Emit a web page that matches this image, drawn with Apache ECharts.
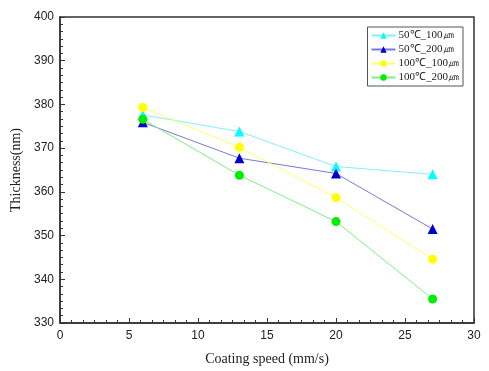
<!DOCTYPE html>
<html><head><meta charset="utf-8">
<script src="https://cdn.jsdelivr.net/npm/echarts@6/dist/echarts.min.js"></script>
<style>html,body{margin:0;padding:0;background:#fff}#c{width:489px;height:371px}</style>
</head><body><div id="c"></div>
<script>
const speeds = [6, 13, 20, 27];
const seriesNames = ['50℃_100㎛', '50℃_200㎛', '100℃_100㎛', '100℃_200㎛'];
const t50_100 = [377.6, 373.8, 365.8, 364.0];
const t50_200 = [375.9, 367.7, 364.2, 351.5];
const t100_100 = [379.3, 370.2, 358.7, 344.6];
const t100_200 = [376.6, 363.8, 353.2, 335.5];
const colors = ['#00ffff', '#0000cc', '#ffff00', '#00ee00'];
const lineColors = ['#80f0ff', '#7777dd', '#ffff70', '#80ee80'];
const symbols = ['triangle', 'triangle', 'circle', 'circle'];
const allValues = [t50_100, t50_200, t100_100, t100_200];

const chart = echarts.init(document.getElementById('c'), null, {renderer: 'canvas'});
const axisCommon = {
  axisLine: {show: true, lineStyle: {color: '#333', width: 1.5}},
  axisTick: {show: true, inside: true, length: 5, lineStyle: {color: '#333', width: 1}},
  minorTick: {show: true, splitNumber: 6, length: 3, lineStyle: {color: '#333', width: 1}},
  splitLine: {show: false},
  axisLabel: {color: '#222', fontFamily: 'Liberation Sans', fontSize: 12},
  nameTextStyle: {color: '#222', fontFamily: 'Liberation Serif', fontSize: 14}
};
chart.setOption({
  animation: false,
  grid: {left: 60, right: 15, top: 17, bottom: 48, show: true, borderColor: '#333', borderWidth: 1.5},
  xAxis: Object.assign({}, axisCommon, {
    type: 'value', min: 0, max: 30, interval: 5,
    name: 'Coating speed (mm/s)', nameLocation: 'middle', nameGap: 29,
    axisLabel: Object.assign({}, axisCommon.axisLabel, {margin: 7})
  }),
  yAxis: Object.assign({}, axisCommon, {
    type: 'value', min: 330, max: 400, interval: 10,
    name: 'Thickness(nm)', nameLocation: 'middle', nameGap: 32,
    axisLabel: Object.assign({}, axisCommon.axisLabel, {margin: 6})
  }),
  legend: {
    orient: 'vertical', right: 26, top: 27,
    borderColor: '#555', borderWidth: 1, padding: [3, 4, 3, 3],
    itemGap: 3, itemWidth: 24, itemHeight: 8,
    textStyle: {fontFamily: 'Liberation Serif', fontSize: 11, color: '#222', padding: [0, 0, 0, -2]},
    data: seriesNames
  },
  series: seriesNames.map((n, i) => ({
    name: n, type: 'line',
    data: speeds.map((s, j) => [s, allValues[i][j]]),
    symbol: symbols[i], symbolSize: symbols[i] === 'triangle' ? 10 : 9,
    itemStyle: {color: colors[i]},
    lineStyle: {color: lineColors[i], width: 1}
  }))
});
</script></body></html>
